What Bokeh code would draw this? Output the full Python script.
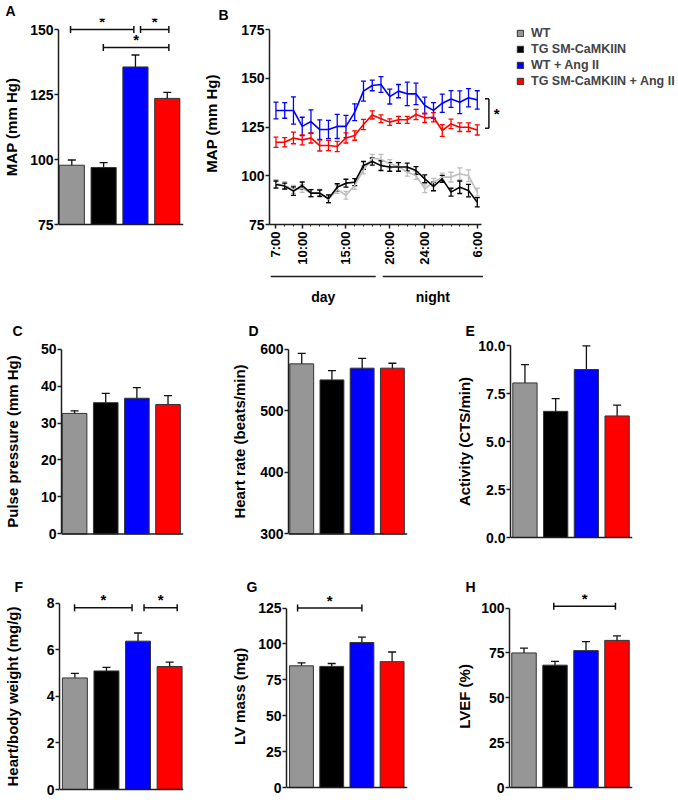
import math
from bokeh.plotting import figure
from bokeh.models import (Range1d, ColumnDataSource, Whisker, TeeHead, Title, Span,
                          FixedTicker, Legend, LegendItem, NumeralTickFormatter)
from bokeh.layouts import row, column
from bokeh.embed import file_html
from bokeh.resources import INLINE
from bokeh.core.properties import value

FONT = "Liberation Sans"
INK = "#1e1e1e"

# ---------------- data ----------------
GROUPS = ["WT", "TG SM-CaMKIIN", "WT + Ang II", "TG SM-CaMKIIN + Ang II"]
BAR_COLORS = ["#969696", "#000000", "#0000ff", "#ff0000"]
LINE_COLORS = ["#bdbdbd", "#000000", "#0000ff", "#ff0000"]

# A: MAP (mm Hg)
A_MEAN = [97.8, 96.9, 135.6, 123.5]
A_SEM = [2.0, 1.9, 4.6, 2.3]
# C: pulse pressure
C_MEAN = [32.6, 35.5, 36.7, 35.0]
C_SEM = [0.7, 2.5, 2.9, 2.4]
# D: heart rate
D_MEAN = [576, 550, 569, 569]
D_SEM = [17, 15, 16, 8]
# E: activity
E_MEAN = [8.05, 6.57, 8.75, 6.33]
E_SEM = [0.95, 0.66, 1.23, 0.56]
# F: heart/body weight
F_MEAN = [4.79, 5.09, 6.37, 5.28]
F_SEM = [0.20, 0.15, 0.35, 0.19]
# G: LV mass
G_MEAN = [84.8, 84.4, 101.0, 87.7]
G_SEM = [2.1, 2.0, 3.7, 6.7]
# H: LVEF
H_MEAN = [75.0, 68.2, 76.3, 82.0]
H_SEM = [2.7, 2.1, 5.0, 2.5]

# significance brackets (group position from, to, level)
A_SIG_FROM = [0.96, 3.16, 1.99]
A_SIG_TO = [2.95, 4.05, 4.05]
A_SIG_Y = [150, 150, 143.1]
F_SIG_FROM = [0.99, 3.19]
F_SIG_TO = [2.81, 4.24]
F_SIG_Y = [7.8, 7.8]
G_SIG_FROM = [0.87]
G_SIG_TO = [3.0]
G_SIG_Y = [125]
H_SIG_FROM = [1.96]
H_SIG_TO = [3.95]
H_SIG_Y = [101]

# B: 24 h MAP time course (hour of day; 30 = 6:00 next morning)
HOURS = [7, 8, 9, 10, 11, 12, 13, 14, 15, 16, 17, 18, 19, 20, 21, 22, 23, 24,
         25, 26, 27, 28, 29, 30]
HOUR_TICKS = [7, 10, 15, 20, 24, 30]
HOUR_LABELS = ["7:00", "10:00", "15:00", "20:00", "24:00", "6:00"]
B_WT = [96, 95, 93, 93.5, 91, 91, 88, 93, 90, 95, 103, 109, 108.5, 106.1, 104.7,
        101.8, 100.1, 93.3, 96.7, 99.3, 99.3, 101, 100, 91.6]
B_WT_SEM = [2, 2, 2, 2, 2, 2, 2, 2, 2, 2, 2, 2, 2.5, 2.2, 2.2, 2, 2, 2, 2, 2,
            2.5, 3, 3, 2]
B_TG = [95.5, 94.7, 92.1, 95, 91.1, 91.1, 88.2, 94.1, 96.2, 96.7, 105.3, 107.3,
        105.2, 104.5, 104.5, 104.5, 102.7, 98.4, 94.5, 98.4, 91.6, 94.1, 92.4, 86.4]
B_TG_SEM = [1.8, 1.5, 2.2, 1.8, 1.8, 1.6, 2, 1.8, 2, 1.8, 2, 1.8, 2.5, 2.2, 2.2,
            2, 2, 2, 2.2, 1.8, 2, 3.2, 3.2, 2.4]
B_WT_ANG = [133.5, 133.5, 133.5, 125.3, 127.8, 123.7, 123.7, 125.3, 125.3, 132.6,
            143.4, 146.3, 146.8, 140.6, 143.4, 142, 142, 136, 133.5, 137.2, 139.4,
            137.7, 140, 138.9]
B_WT_ANG_SEM = [4.3, 4.0, 7.0, 4.7, 6.0, 5.0, 4.7, 6.2, 5.7, 4.3, 5.1, 2.7, 4.0,
                3.8, 3.4, 6.0, 5.5, 4.3, 4.0, 4.7, 4.3, 5.8, 4.7, 4.7]
B_TG_ANG = [117.2, 117.2, 119.4, 118.4, 119.4, 115.5, 115.5, 115, 119.4, 120.6,
            126.3, 131.2, 129.2, 127.5, 128.7, 128.7, 131.4, 129.7, 130, 123.2,
            126.6, 124.9, 124.9, 123.5]
B_TG_ANG_SEM = [2.6, 2.4, 3, 2.6, 2.6, 2.8, 2.6, 2.6, 2.6, 2.4, 2.6, 2.1, 2, 1.7,
                1.8, 1.8, 2.6, 2.4, 2.4, 3, 2.4, 2.2, 2.2, 2.6]
B_SIG_X = 31.33
B_SIG_LO = 124.4
B_SIG_HI = 139.5
PERIODS = ["day", "night"]
PERIOD_START = [6.4, 19.2]
PERIOD_END = [18.4, 30.65]


# ---------------- helpers ----------------
def style(p):
    p.grid.visible = False
    p.outline_line_color = None
    for ax in p.axis:
        ax.axis_line_color = INK
        ax.axis_line_width = 1.5
        ax.major_tick_line_color = INK
        ax.major_tick_line_width = 1.5
        ax.major_tick_out = 4
        ax.major_tick_in = 0
        ax.minor_tick_line_color = None
        ax.major_label_text_font = FONT
        ax.major_label_text_font_style = "bold"
        ax.major_label_text_font_size = "14px"
        ax.major_label_text_color = "#000000"
        ax.major_label_standoff = 1
        ax.axis_label_text_font = FONT
        ax.axis_label_text_font_style = "bold"
        ax.axis_label_text_font_size = "15px"
        ax.axis_label_text_color = "#000000"


def letter(p, text, offset):
    p.add_layout(Title(text=text, align="left", offset=offset, standoff=0,
                       vertical_align="bottom", text_font=FONT,
                       text_font_style="bold", text_font_size="14px",
                       text_color="#000000"), "above")


def bar_panel(w, h, L, R, T, ax_top, ax_bot, x0, x1, ymin, ymax, ticks, ylabel,
              lab_standoff, means, sems, let, let_off,
              sig_from=None, sig_to=None, sig_y=None, fmt=None):
    # frame extends symmetrically above/below the axis (as far as room allows)
    Bb = int(max(round(h - ax_bot - (ax_top - T)), 0))
    ext = h - Bb - ax_bot
    ppu = (ax_bot - ax_top) / (ymax - ymin)
    y_end = ymax + (ax_top - T) / ppu
    y_start = ymin - ext / ppu
    p = figure(width=w, height=h, x_range=Range1d(x0, x1),
               y_range=Range1d(y_start, y_end), x_axis_location=None,
               min_border_left=L, min_border_right=R, min_border_top=T,
               min_border_bottom=Bb, toolbar_location=None, output_backend="svg")
    xs = [i + 1 for i in range(len(GROUPS))]
    src = ColumnDataSource(dict(
        x=xs, top=means, color=BAR_COLORS, group=GROUPS,
        lo=[m - s for m, s in zip(means, sems)],
        hi=[m + s for m, s in zip(means, sems)]))
    p.vbar(x="x", top="top", bottom=ymin, width=0.79, fill_color="color",
           line_color="#333333", line_width=1, source=src)
    p.add_layout(Span(location=ymin, dimension="width", line_color=INK, line_width=1.5))
    p.add_layout(Whisker(source=src, base="x", lower="lo", upper="hi",
                         line_color="#111111", line_width=1.3,
                         upper_head=TeeHead(size=8, line_color="#111111", line_width=1.3),
                         lower_head=TeeHead(size=8, line_color="#111111", line_width=1.3)))
    if sig_from:
        ssrc = ColumnDataSource(dict(y=sig_y, a=sig_from, b=sig_to,
                                     m=[(a + b) / 2 for a, b in zip(sig_from, sig_to)],
                                     t=["*"] * len(sig_y)))
        p.add_layout(Whisker(source=ssrc, base="y", lower="a", upper="b",
                             dimension="width", line_color="#111111", line_width=1.5,
                             upper_head=TeeHead(size=7, line_color="#111111", line_width=1.5),
                             lower_head=TeeHead(size=7, line_color="#111111", line_width=1.5)))
        p.text(x="m", y="y", text="t", source=ssrc, text_font=value(FONT),
               text_font_style="bold", text_font_size="15px", text_align="center",
               text_baseline="alphabetic", y_offset=-8, text_color="#000000")
    p.yaxis.ticker = FixedTicker(ticks=ticks)
    p.yaxis.bounds = (ymin, ymax)
    p.yaxis.axis_label = ylabel
    if fmt:
        p.yaxis.formatter = NumeralTickFormatter(format=fmt)
    style(p)
    p.yaxis.axis_label_standoff = lab_standoff
    letter(p, let, let_off)
    return p


# ---------------- panel A ----------------
pA = bar_panel(200, 318, 56, 17, 18, 29, 224, 0.582, 4.51, 75, 150,
               [75, 100, 125, 150], "MAP (mm Hg)", 7, A_MEAN, A_SEM, "A", -53,
               A_SIG_FROM, A_SIG_TO, A_SIG_Y)

# ---------------- panel B ----------------
BW, BH, BL, BT, BB = 478, 270, 66, 22, 46
bx0, bx1 = 6.263, 52.99
by_end = 175 + (29 - BT) / 1.95
pB = figure(width=BW, height=BH, x_range=Range1d(bx0, bx1), y_range=Range1d(75, by_end),
            min_border_left=BL, min_border_right=0, min_border_top=BT,
            min_border_bottom=BB, toolbar_location=None, output_backend="svg")
series = [(B_WT, B_WT_SEM), (B_TG, B_TG_SEM), (B_WT_ANG, B_WT_ANG_SEM),
          (B_TG_ANG, B_TG_ANG_SEM)]
for (vals, sems), col in zip(series, LINE_COLORS):
    s = ColumnDataSource(dict(h=HOURS, v=vals,
                              lo=[a - b for a, b in zip(vals, sems)],
                              hi=[a + b for a, b in zip(vals, sems)]))
    pB.line("h", "v", source=s, line_color=col, line_width=1.6)
    pB.add_layout(Whisker(source=s, base="h", lower="lo", upper="hi",
                          line_color=col, line_width=1.3,
                          upper_head=TeeHead(size=5, line_color=col, line_width=1.3),
                          lower_head=TeeHead(size=5, line_color=col, line_width=1.3)))
pB.segment(x0=[B_SIG_X, B_SIG_X, B_SIG_X], y0=[B_SIG_LO, B_SIG_LO, B_SIG_HI],
           x1=[B_SIG_X, B_SIG_X - 0.45, B_SIG_X - 0.45], y1=[B_SIG_HI, B_SIG_LO, B_SIG_HI],
           line_color="#111111", line_width=1.5)
pB.text(x=[B_SIG_X + 0.9], y=[(B_SIG_LO + B_SIG_HI) / 2], text=["*"],
        text_font=value(FONT), text_font_style="bold", text_font_size="15px",
        text_align="center", text_baseline="middle", y_offset=0, text_color="#000000")
items = []
for g, c in zip(GROUPS, BAR_COLORS):
    r = pB.vbar(x=[float("nan")], top=[float("nan")], width=0.5, fill_color=c,
                line_color="#333333")
    items.append(LegendItem(label=g, renderers=[r]))
pB.add_layout(Legend(items=items, location=(247, 136), orientation="vertical",
                     glyph_width=8, glyph_height=8, label_height=14, label_standoff=7,
                     spacing=2, padding=0, margin=0, border_line_color=None,
                     background_fill_alpha=0, label_text_font=FONT,
                     label_text_font_style="bold", label_text_font_size="12.5px"))
pB.yaxis.ticker = FixedTicker(ticks=[75, 100, 125, 150, 175])
pB.yaxis.bounds = (75, 175)
pB.yaxis.axis_label = "MAP (mm Hg)"
pB.xaxis.ticker = FixedTicker(ticks=HOUR_TICKS, minor_ticks=HOURS)
pB.xaxis.major_label_overrides = {t: l for t, l in zip(HOUR_TICKS, HOUR_LABELS)}
pB.xaxis.bounds = (bx0, 30.5)
style(pB)
pB.yaxis.axis_label_standoff = 18
pB.xaxis.major_label_orientation = math.pi / 2
pB.xaxis.major_label_text_font_size = "13px"
pB.xaxis.minor_tick_line_color = INK
pB.xaxis.minor_tick_out = 2
pB.xaxis.minor_tick_in = 0
pB.xaxis.major_label_standoff = 3
letter(pB, "B", -51)

pBot = figure(width=BW, height=48, x_range=pB.x_range, y_range=Range1d(48, 0),
              min_border_left=BL, min_border_right=0, min_border_top=0,
              min_border_bottom=0, toolbar_location=None, output_backend="svg",
              x_axis_location=None, y_axis_location=None)
pBot.grid.visible = False
pBot.outline_line_color = None
psrc = ColumnDataSource(dict(a=PERIOD_START, b=PERIOD_END, name=PERIODS,
                             m=[(a + b) / 2 for a, b in zip(PERIOD_START, PERIOD_END)]))
pBot.segment(x0="a", x1="b", y0=6, y1=6, source=psrc, line_color=INK, line_width=1.5)
pBot.text(x="m", y=26, text="name", source=psrc, text_font=value(FONT),
          text_font_style="bold", text_font_size="14px", text_align="center",
          text_baseline="middle", text_color="#000000")

# ---------------- rows 2 & 3 ----------------
pC = bar_panel(228, 252, 57, 45, 20, 31, 223, 0.58, 4.497, 0, 50, [0, 10, 20, 30, 40, 50],
               "Pulse pressure (mm Hg)", 17, C_MEAN, C_SEM, "C", -49)
pD = bar_panel(225, 252, 53, 46, 20, 31, 223, 0.5625, 4.5, 300, 600, [300, 400, 500, 600],
               "Heart rate (beats/min)", 9, D_MEAN, D_SEM, "D", -40)
pE = bar_panel(225, 252, 52, 46, 20, 27, 219, 0.53, 4.5, 0, 10, [0, 2.5, 5, 7.5, 10],
               "Activity (CTS/min)", 2, E_MEAN, E_SEM, "E", -45, fmt="0.0")
pF = bar_panel(228, 230, 58, 45, 24, 32.7, 219, 0.513, 4.44, 0, 8, [0, 2, 4, 6, 8],
               "Heart/body weight (mg/g)", 23, F_MEAN, F_SEM, "F", -45,
               F_SIG_FROM, F_SIG_TO, F_SIG_Y)
pG = bar_panel(225, 230, 54, 46, 24, 37.7, 219, 0.503, 4.51, 0, 125,
               [0, 25, 50, 75, 100, 125], "LV mass (mg)", 7, G_MEAN, G_SEM, "G", -40,
               G_SIG_FROM, G_SIG_TO, G_SIG_Y)
pH = bar_panel(225, 230, 56, 46, 24, 37.7, 219, 0.532, 4.5, 0, 100, [0, 25, 50, 75, 100],
               "LVEF (%)", 5, H_MEAN, H_SEM, "H", -44,
               H_SIG_FROM, H_SIG_TO, H_SIG_Y)

layout = column(row(pA, column(pB, pBot)), row(pC, pD, pE), row(pF, pG, pH))
open("out.html", "w").write(file_html(layout, INLINE, "MAP figure"))
